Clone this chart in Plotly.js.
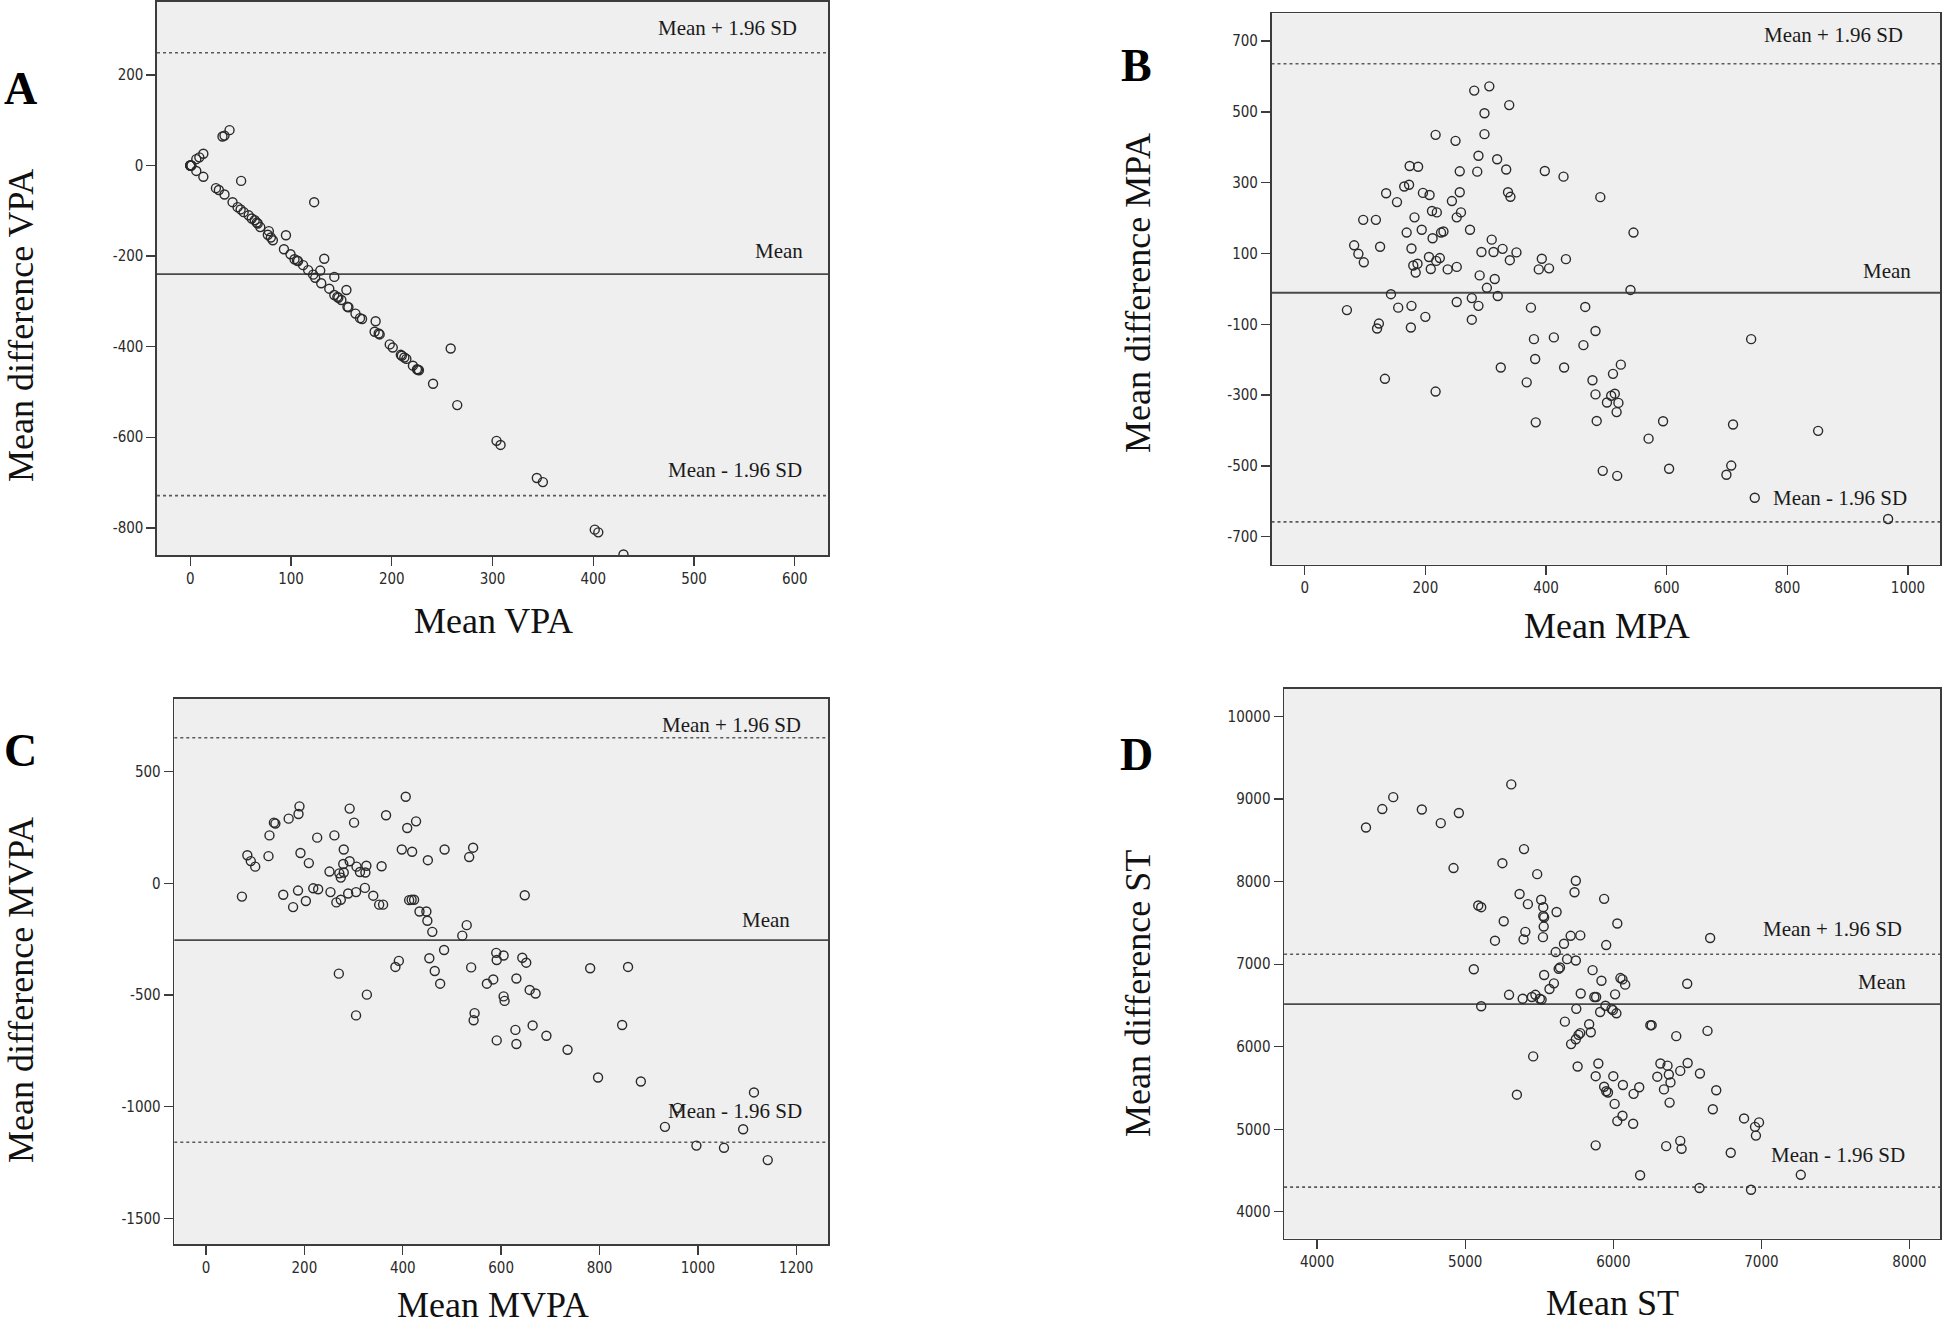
<!DOCTYPE html>
<html>
<head>
<meta charset="utf-8">
<script src="https://cdn.plot.ly/plotly-3.0.1.min.js"></script>
<style>html,body{margin:0;padding:0;background:#fff;}#chart{width:1946px;height:1329px;}</style>
</head>
<body>
<div id="chart"></div>
<script>
// ---------- Panel A: VPA ----------
const vpaMean = [0,0,0,1,1,6,9,13,6,13,32,34,39,50.5,25.5,28.4,34,42,47,50,53,58,61,64,66,67,69.5,78,80,82,77,95,93,99.5,103.5,106,107,112,117,122,124,123,133,129,130,138,143,143,146,147,150,155,156,157,164,168.5,170.5,184,183,187,188,198,201,209,210,212.5,214.5,221,225,226,227,241,258.5,265,304,308,344,350,401.5,405,430];
const vpaDiff = [0,0,0,0,0,14,18,26,-12,-25,64,66,78,-34,-50,-54,-64,-81,-92,-97,-103,-110,-117,-121,-126,-128,-136,-145,-159,-165,-153,-154,-185,-196,-207,-210,-211,-220,-231,-241,-248,-81,-206,-232,-260,-272,-246,-286,-290,-292,-297,-275,-312,-313,-327,-337,-339,-344,-367,-371,-373,-395,-402,-418,-420,-424,-427,-442,-450,-451,-452,-482,-404,-529,-608,-617,-690,-699,-804,-810,-859];
const vpaLines = [249, -240, -729];          // upper LoA, mean, lower LoA
const vpaXTicks = [0,100,200,300,400,500,600];
const vpaYTicks = [-800,-600,-400,-200,0,200];

// ---------- Panel B: MPA ----------
const mpaMean = [281,306,339,298,217,298,250,288,319,174,188,257,286,334,398,429,165,173,135,196,207,257,337,341,490,153,244,211,219,259,252,97,118,182,169,194,274,545,226,230,212,310,82,125,177,328,89,98,293,313,351,206,224,218,187,180,184,209,237,252,340,393,433,388,405,290,315,302,540,143,277,320,70,155,177,252,288,375,465,200,277,123,120,176,482,380,413,462,740,382,325,430,524,511,133,368,477,217,482,508,514,501,520,517,383,484,594,710,851,570,494,518,604,707,699,746,967];
const mpaDiff = [560,572,519,496,435,437,418,376,366,347,345,332,331,337,333,317,289,294,270,271,265,273,273,260,259,245,248,220,216,216,202,195,195,202,159,167,167,159,159,162,143,139,123,119,114,113,99,75,104,104,103,90,87,79,71,66,46,56,55,62,81,85,84,55,58,38,28,3,-3,-15,-26,-20,-60,-53,-48,-37,-48,-53,-51,-79,-87,-98,-112,-109,-119,-142,-137,-159,-142,-198,-222,-222,-214,-240,-254,-264,-258,-290,-298,-302,-296,-321,-322,-348,-377,-373,-374,-383,-401,-423,-514,-528,-508,-499,-525,-590,-650];
const mpaLines = [636, -11, -658];
const mpaXTicks = [0,200,400,600,800,1000];
const mpaYTicks = [-700,-500,-300,-100,100,300,500,700];

// ---------- Panel C: MVPA ----------
const mvpaMean = [406,190,188,292,366,301,168,138,141,427,409,129,226,261,280,398,419,485,543,535,451,84,91,100,127,192,209,292,279,306,313,326,324,357,251,271,274,280,73,157,187,177,203,218,228,253,265,274,289,305,323,340,352,360,413,418,423,434,448,450,460,530,521,648,484,385,392,454,465,476,270,327,305,539,571,584,591,590,605,631,643,651,605,607,658,670,546,544,629,631,591,664,692,735,781,858,846,797,884,1114,959,933,1092,997,1053,1142];
const mvpaDiff = [388,345,311,335,305,272,290,272,268,278,248,215,205,215,152,152,142,152,160,118,104,126,100,75,122,136,91,99,87,75,51,79,49,77,53,45,26,49,-59,-51,-32,-106,-79,-22,-26,-39,-85,-73,-45,-39,-20,-55,-95,-95,-75,-73,-73,-126,-126,-167,-217,-187,-234,-53,-298,-374,-347,-335,-392,-449,-404,-498,-591,-376,-449,-430,-343,-311,-323,-426,-333,-355,-506,-526,-477,-493,-581,-613,-656,-719,-703,-636,-682,-745,-380,-374,-634,-869,-887,-936,-1005,-1090,-1101,-1174,-1184,-1239];
const mvpaLines = [652, -254, -1159];
const mvpaXTicks = [0,200,400,600,800,1000,1200];
const mvpaYTicks = [-1500,-1000,-500,0,500];

// ---------- Panel D: ST ----------
const stMean = [4330,4440,4514,4707,4835,4957,4921,5311,5397,5251,5486,5747,5738,5938,5367,5513,5088,5108,5423,5527,5527,5533,5617,5260,6027,5530,5406,5394,5525,5712,5777,5201,5667,5952,6654,5611,5688,5747,5058,5640,5631,5860,5533,5920,6048,6062,6080,6499,5599,5569,5780,6012,5296,5388,5450,5474,5504,5516,5872,5884,5108,5947,5988,5997,6021,5911,5750,5673,5837,6250,6259,6636,6425,5777,5765,5848,5747,5715,5459,5759,5899,5881,6000,5938,5952,5964,6065,6175,6137,6009,6062,6027,6134,5349,5881,6318,6366,6375,6297,6386,6342,6452,6502,6585,6695,6380,6672,6883,6957,6984,6963,6357,6452,6461,6793,6181,7266,6582,6930];
const stDiff = [8656,8880,9024,8875,8709,8832,8165,9179,8395,8224,8091,8011,7872,7792,7851,7781,7712,7691,7728,7691,7584,7568,7632,7520,7493,7456,7392,7301,7328,7344,7349,7285,7248,7232,7317,7147,7061,7045,6939,6960,6944,6928,6869,6800,6832,6816,6752,6763,6768,6699,6645,6635,6629,6581,6603,6629,6581,6571,6603,6603,6491,6496,6459,6443,6405,6421,6459,6304,6272,6261,6261,6192,6128,6165,6144,6176,6091,6032,5883,5760,5797,5643,5643,5515,5461,5445,5536,5509,5429,5307,5163,5099,5067,5419,4805,5797,5771,5664,5637,5568,5483,5707,5803,5675,5472,5323,5243,5131,5029,5083,4923,4795,4859,4763,4715,4443,4448,4288,4267];
const stLines = [7120, 6517, 4299];
const stXTicks = [4000,5000,6000,7000,8000];
const stYTicks = [4000,5000,6000,7000,8000,9000,10000];

const lineLabels = ['Mean + 1.96 SD', 'Mean', 'Mean - 1.96 SD'];
const panelLetters = ['A', 'B', 'C', 'D'];
const xTitles = ['Mean VPA', 'Mean MPA', 'Mean MVPA', 'Mean ST'];
const yTitles = ['Mean difference VPA', 'Mean difference MPA', 'Mean difference MVPA', 'Mean difference ST'];

// ---------- layout geometry (pixels in 1946 x 1329 page) ----------
const W = 1946, H = 1329;
const panels = [
  {x: vpaMean, y: vpaDiff, lines: vpaLines, xt: vpaXTicks, yt: vpaYTicks,
   box: [157, 828, 2, 555], xr: [-33, 633], yr: [-860, 361],
   lab: {xs: [-29, -23, -24], ys: [25, 23, 26]},
   letter: [20, 88], ytitle: [21, 326], xtitle: [493, 621]},
  {x: mpaMean, y: mpaDiff, lines: mpaLines, xt: mpaXTicks, yt: mpaYTicks,
   box: [1271.5, 1940, 13.4, 564.7], xr: [-55, 1053], yr: [-779, 778],
   lab: {xs: [-35, -27, -31], ys: [29, 22, 24]},
   letter: [1136, 65], ytitle: [1138, 293], xtitle: [1607, 626]},
  {x: mvpaMean, y: mvpaDiff, lines: mvpaLines, xt: mvpaXTicks, yt: mvpaYTicks,
   box: [174.3, 828, 698.5, 1244.3], xr: [-64.5, 1264.5], yr: [-1616, 828],
   lab: {xs: [-25, -36, -24], ys: [13, 20, 31]},
   letter: [20, 750], ytitle: [21, 990], xtitle: [493, 1305]},
  {x: stMean, y: stDiff, lines: stLines, xt: stXTicks, yt: stYTicks,
   box: [1284.1, 1940, 688.9, 1238.6], xr: [3777, 8206], yr: [3675, 10336],
   lab: {xs: [-36, -32, -33], ys: [25, 22, 32]},
   letter: [1136, 754], ytitle: [1138, 994], xtitle: [1612, 1303]}
];

const tickFont = {family: 'Liberation Sans Narrow, Arial Narrow, DejaVu Sans Condensed, sans-serif', size: 15, color: '#2a2a2a'};
const serif = 'Liberation Serif, Times New Roman, serif';

const data = [];
const layout = {
  width: W, height: H, autosize: false,
  margin: {l: 0, r: 0, t: 0, b: 0, pad: 0},
  paper_bgcolor: '#ffffff',
  plot_bgcolor: '#efefef',
  showlegend: false,
  shapes: [], annotations: []
};

panels.forEach((p, i) => {
  const n = i === 0 ? '' : String(i + 1);
  const xa = 'xaxis' + n, ya = 'yaxis' + n;
  const xr = 'x' + n, yr = 'y' + n;
  data.push({
    type: 'scatter', mode: 'markers', x: p.x, y: p.y, xaxis: xr, yaxis: yr,
    marker: {symbol: 'circle-open', size: 9, color: '#2a2a2a', line: {width: 1.4, color: '#2a2a2a'}},
    hoverinfo: 'x+y', cliponaxis: true
  });
  const common = {
    showgrid: false, zeroline: false, showline: true, mirror: true,
    linecolor: '#3c3c3c', linewidth: 1.6, ticks: 'outside', ticklen: 9,
    tickwidth: 1.4, tickcolor: '#3c3c3c', tickfont: tickFont, fixedrange: true
  };
  layout[xa] = Object.assign({}, common, {
    domain: [p.box[0] / W, p.box[1] / W], range: p.xr, anchor: yr,
    tickmode: 'array', tickvals: p.xt, ticktext: p.xt.map(String)
  });
  layout[ya] = Object.assign({}, common, {
    domain: [1 - p.box[3] / H, 1 - p.box[2] / H], range: p.yr, anchor: xr,
    tickmode: 'array', tickvals: p.yt, ticktext: p.yt.map(String)
  });
  p.lines.forEach((v, k) => {
    layout.shapes.push({
      type: 'line', xref: xr + ' domain', yref: yr, x0: 0, x1: 1, y0: v, y1: v, layer: 'below',
      line: k === 1 ? {color: '#4a4a4a', width: 1.8} : {color: '#5a5a5a', width: 1.6, dash: 'dot'}
    });
    layout.annotations.push({
      xref: xr + ' domain', yref: yr, x: 1, y: v, xanchor: 'right', yanchor: 'middle',
      xshift: p.lab.xs[k], yshift: p.lab.ys[k], showarrow: false, text: lineLabels[k],
      font: {family: serif, size: 21, color: '#1a1a1a'}
    });
  });
  layout.annotations.push({
    xref: 'paper', yref: 'paper', x: p.letter[0] / W, y: 1 - p.letter[1] / H,
    xanchor: 'center', yanchor: 'middle', showarrow: false, text: '<b>' + panelLetters[i] + '</b>',
    font: {family: serif, size: 46, color: '#000'}
  });
  layout.annotations.push({
    xref: 'paper', yref: 'paper', x: p.ytitle[0] / W, y: 1 - p.ytitle[1] / H,
    xanchor: 'center', yanchor: 'middle', showarrow: false, textangle: -90, text: yTitles[i],
    font: {family: serif, size: 36, color: '#111'}
  });
  layout.annotations.push({
    xref: 'paper', yref: 'paper', x: p.xtitle[0] / W, y: 1 - p.xtitle[1] / H,
    xanchor: 'center', yanchor: 'middle', showarrow: false, text: xTitles[i],
    font: {family: serif, size: 36, color: '#111'}
  });
});

Plotly.newPlot('chart', data, layout, {displayModeBar: false, staticPlot: true});
</script>
</body>
</html>
